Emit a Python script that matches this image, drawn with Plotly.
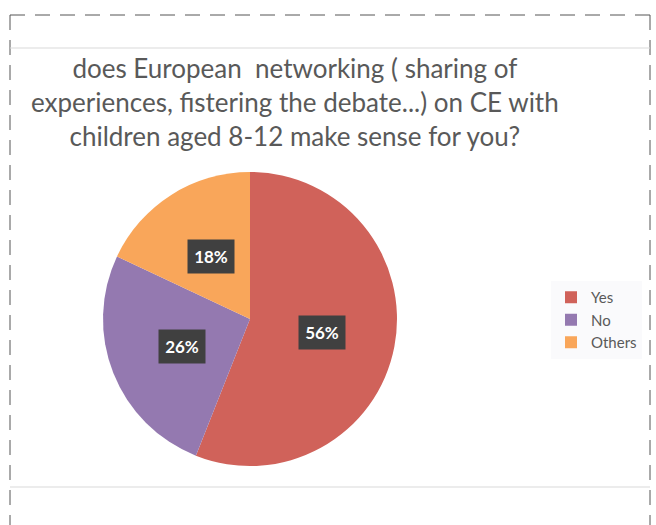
import math
import plotly.graph_objects as go

categories = ["Yes", "No", "Others"]
values = [56, 26, 18]
colors = ["#D0625A", "#9479B0", "#F9A65A"]
title_lines = [
    "does European  networking ( sharing of",
    "experiences, fistering the debate...) on CE with",
    "children aged 8-12 make sense for you?",
]

W, H = 656, 525
cx, cy, R = 250, 319, 147

fig = go.Figure(go.Pie(
    labels=categories, values=values, sort=False, direction="clockwise",
    rotation=0, marker=dict(colors=colors, line=dict(width=0)),
    textinfo="none", hoverinfo="label+percent",
    domain=dict(x=[(cx - R) / W, (cx + R) / W], y=[1 - (cy + R) / H, 1 - (cy - R) / H]),
))

# data labels placed at the middle angle of each slice
total = sum(values)
cum = 0
annotations = []
for v in values:
    mid = (cum + v / 2) / total * 2 * math.pi
    cum += v
    r = 0.5 * R
    px = cx + r * math.sin(mid)
    py = cy - r * math.cos(mid)
    annotations.append(dict(
        x=px / W, y=1 - py / H, xref="paper", yref="paper", showarrow=False,
        xanchor="center", yanchor="middle",
        text="<b>%d%%</b>" % round(v / total * 100),
        font=dict(family="Lato, Open Sans, sans-serif", size=17, color="white"),
        bgcolor="#404040", borderpad=0, width=46, height=33,
    ))

annotations.append(dict(
    x=295 / W, y=1 - 102 / H, xref="paper", yref="paper", showarrow=False,
    xanchor="center", yanchor="middle",
    text="<br>".join(title_lines), align="center",
    font=dict(family="Lato, Open Sans, sans-serif", size=26, color="#595959"),
))

dash = dict(color="#555555", width=1, dash="15px,10px")
shapes = [
    dict(type="line", xref="paper", yref="paper", x0=10 / W, x1=650 / W, y0=1 - 15 / H, y1=1 - 15 / H, line=dash),
    dict(type="line", xref="paper", yref="paper", x0=10 / W, x1=10 / W, y0=1 - 15 / H, y1=0, line=dash),
    dict(type="line", xref="paper", yref="paper", x0=650 / W, x1=650 / W, y0=1 - 15 / H, y1=0, line=dash),
    dict(type="line", xref="paper", yref="paper", x0=10 / W, x1=650 / W, y0=1 - 48 / H, y1=1 - 48 / H,
         line=dict(color="#D9D9D9", width=1)),
    dict(type="line", xref="paper", yref="paper", x0=10 / W, x1=650 / W, y0=1 - 487 / H, y1=1 - 487 / H,
         line=dict(color="#D9D9D9", width=1)),
]

fig.update_layout(
    width=W, height=H, margin=dict(l=0, r=0, t=0, b=0),
    paper_bgcolor="white", plot_bgcolor="white",
    annotations=annotations, shapes=shapes,
    showlegend=True,
    legend=dict(x=551 / W, y=1 - 281 / H, xanchor="left", yanchor="top",
                font=dict(family="Lato, Open Sans, sans-serif", size=15, color="#595959"),
                bgcolor="rgba(250,250,252,1)", itemwidth=30, tracegroupgap=0),
)

fig.write_html("out.html", config={"displayModeBar": False},
               post_script="document.body.style.margin='0';document.body.style.overflow='hidden';")
